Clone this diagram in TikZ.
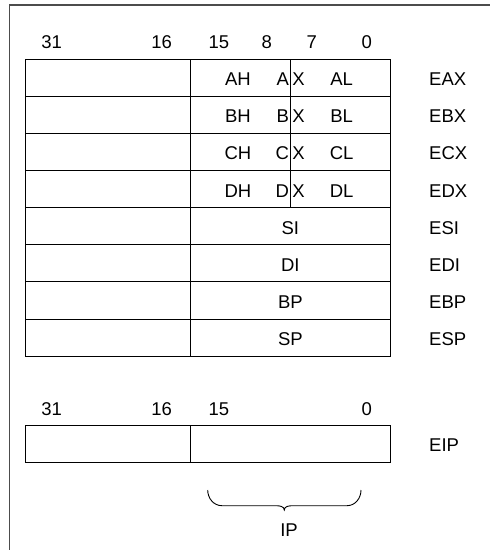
\documentclass[tikz,border=0pt]{standalone}
\usepackage{fontspec}
\setmainfont{Liberation Sans}

\begin{document}
\begin{tikzpicture}[x=1pt,y=-1pt,font=\fontsize{18.5}{22}\selectfont,
    regline/.style={line width=0.9pt},
    bitlabel/.style={inner sep=0pt,anchor=center}]
    \def\lx{25}
    \def\mx{190}
    \def\bx{290.7}
    \def\rx{390.7}
    \def\ty{59.3}
    \def\rh{37.1}
    \def\dy{1.5}
    \useasboundingbox (0,0) rectangle (490,550);
    % frame
    \draw[line width=1.4pt,black!70] (9.3,550) -- (9.3,5) -- (490,5);
    % bit numbers
    \node[bitlabel] (b31) at (51.7,42.3) {31};
    \node[bitlabel] (b16) at (161.7,42.3) {16};
    \node[bitlabel] (b15) at (219,42.3) {15};
    \node[bitlabel] (b8) at (266.7,42.3) {8};
    \node[bitlabel] (b7) at (311.7,42.3) {7};
    \node[bitlabel] (b0) at (366.7,42.3) {0};
    % registers
    \foreach \i in {0,...,8}
      \draw[regline] (\lx,{\ty+\i*\rh}) -- (\rx,{\ty+\i*\rh});
    \draw[regline] (\lx,\ty) -- (\lx,{\ty+8*\rh});
    \draw[regline] (\mx,\ty) -- (\mx,{\ty+8*\rh});
    \draw[regline] (\rx,\ty) -- (\rx,{\ty+8*\rh});
    \draw[regline] (\bx,\ty) -- (\bx,{\ty+4*\rh});
    \foreach \r [count=\i] in {A,B,C,D} {
      \node (hi\r) at (238,{\ty+(\i-0.5)*\rh+\dy}) {\r H};
      \node[anchor=east,inner sep=1.5pt] (xa\r) at (\bx,{\ty+(\i-0.5)*\rh+\dy}) {\r};
      \node[anchor=west,inner sep=1.5pt] (xb\r) at (\bx,{\ty+(\i-0.5)*\rh+\dy}) {X};
      \node (lo\r) at (341.7,{\ty+(\i-0.5)*\rh+\dy}) {\r L};
      \node[anchor=west,inner sep=0pt] (e\r) at (429,{\ty+(\i-0.5)*\rh+\dy}) {E\r X};
    }
    \foreach \r [count=\i from 5] in {SI,DI,BP,SP} {
      \node (w\r) at ({(\mx+\rx)/2},{\ty+(\i-0.5)*\rh+\dy}) {\r};
      \node[anchor=west,inner sep=0pt] (e\r) at (429,{\ty+(\i-0.5)*\rh+\dy}) {E\r};
    }
    % instruction pointer
    \node[bitlabel] (i31) at (51.7,409) {31};
    \node[bitlabel] (i16) at (161.7,409) {16};
    \node[bitlabel] (i15) at (219,409) {15};
    \node[bitlabel] (i0) at (366.7,409) {0};
    \draw[regline] (\lx,425.7) rectangle (\rx,462.7);
    \draw[regline] (\mx,425.7) -- (\mx,462.7);
    \node[anchor=west,inner sep=0pt] (eip) at (429,445.5) {EIP};
    \coordinate (bl) at (207.7,490);
    \coordinate (br) at (361,490);
    \coordinate (tip) at (284.3,510);
    \draw[line width=0.9pt] (bl) to[out=-90,in=180] (222,505.7) -- (276,505.7)
      to[out=0,in=90] (tip) to[out=90,in=180] (292.6,505.7) -- (347,505.7)
      to[out=0,in=-90] (br);
    \node (ip) at (289,530) {IP};
  \end{tikzpicture}
\end{document}
